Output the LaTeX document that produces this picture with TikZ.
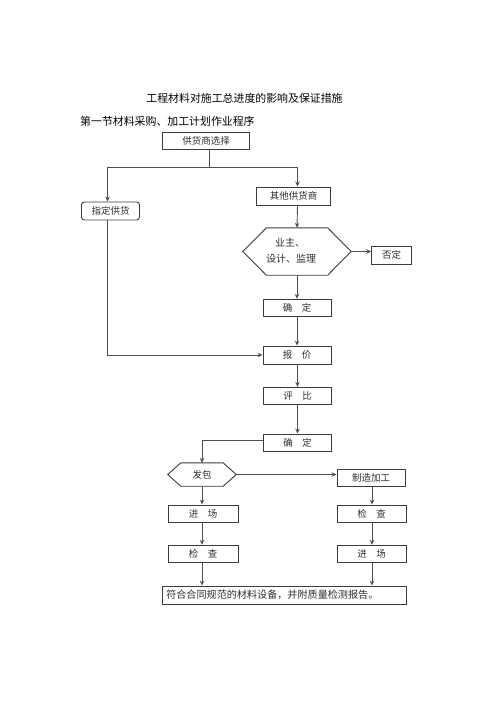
\documentclass[tikz,border=0pt]{standalone}
\usepackage{fontspec}
\setmainfont{Noto Sans CJK SC}
\usetikzlibrary{arrows.meta,calc}
\definecolor{linegray}{HTML}{505050}
\definecolor{boxgray}{HTML}{3C3C3C}
\definecolor{txtgray}{HTML}{2E2E2E}
\begin{document}
\begin{tikzpicture}[x=1pt,y=-1pt,
  boxst/.style={draw=boxgray, line width=0.9pt, inner sep=0pt, text=txtgray,
    font=\fontsize{9.5}{11}\selectfont},
  hexshape/.style={inner sep=0pt},
  hexline/.style={draw=boxgray, line width=0.9pt},
  conn/.style={draw=linegray, line width=0.9pt},
  arr/.style={conn, -{Stealth[length=5pt,width=4.5pt]}},
  titlest/.style={inner sep=0pt, font=\fontsize{10.9}{12}\selectfont, text=black}
]
\useasboundingbox (0,0) rectangle (500,707);

% titles
\node[titlest] (t1) at (244.5,98.3) {工程材料对施工总进度的影响及保证措施};
\node[titlest, anchor=west] (t2) at (80,121.7) {第一节材料采购、加工计划作业程序};

% boxes
\node[boxst, minimum width=87pt, minimum height=17pt] (sel) at (206,140.7) {供货商选择};
\node[boxst, rounded corners=3pt, minimum width=58pt, minimum height=18pt] (zd) at (110.5,211) {指定供货};
\node[boxst, minimum width=74pt, minimum height=18pt] (qt) at (293.5,196) {其他供货商};

\node[hexshape, minimum width=108pt, minimum height=47pt] (rev) at (297,251.5) {};
\draw[hexline] (rev.west) -- ([xshift=23.5pt]rev.north west) -- ([xshift=-23.5pt]rev.north east)
  -- (rev.east) -- ([xshift=-23.5pt]rev.south east) -- ([xshift=23.5pt]rev.south west) -- cycle;
\node[inner sep=0pt, align=left, text=txtgray, font=\fontsize{10}{16}\selectfont] (revt) at (291,251.2)
  {\hspace{0.9em}业主、\\设计、监理};

\node[boxst, minimum width=40pt, minimum height=18pt] (fd) at (391.7,255) {否定};
\node[boxst, minimum width=68pt, minimum height=17.5pt] (qd1) at (297,308) {确\hspace{1em}定};
\node[boxst, minimum width=68pt, minimum height=18pt] (bj) at (297,355) {报\hspace{1em}价};
\node[boxst, minimum width=68.5pt, minimum height=17pt] (pb) at (297.5,395.8) {评\hspace{1em}比};
\node[boxst, minimum width=68.5pt, minimum height=17pt] (qd2) at (297.5,442.5) {确\hspace{1em}定};

\node[hexshape, minimum width=68pt, minimum height=23pt, text=txtgray, font=\fontsize{9.5}{11}\selectfont] (fb) at (202,474.5) {发包};
\draw[hexline] (fb.west) -- ([xshift=13pt]fb.north west) -- ([xshift=-13pt]fb.north east)
  -- (fb.east) -- ([xshift=-13pt]fb.south east) -- ([xshift=13pt]fb.south west) -- cycle;

\node[boxst, minimum width=68pt, minimum height=17pt] (zz) at (371,477.5) {制造加工};
\node[boxst, minimum width=70pt, minimum height=17pt] (jcL) at (203,513.5) {进\hspace{1em}场};
\node[boxst, minimum width=70pt, minimum height=17.5pt] (ckL) at (203,554) {检\hspace{1em}查};
\node[boxst, minimum width=69pt, minimum height=17pt] (ckR) at (371.5,513.5) {检\hspace{1em}查};
\node[boxst, minimum width=69pt, minimum height=17.5pt] (jcR) at (371.5,554) {进\hspace{1em}场};
\node[boxst, minimum width=243.5pt, minimum height=18pt, text width=236pt, align=left,
  font=\fontsize{10.1}{12}\selectfont] (bot) at (284.25,595) {符合合同规范的材料设备，并附质量检测报告。};

% column coordinates
\coordinate (cR) at (297.5,0);
\coordinate (cL) at (202,0);
\coordinate (cZ) at (372,0);
\coordinate (split) at (209,167);
\coordinate (brL) at (107.5,167);
\coordinate (brR) at (297.5,167);

% connectors
\draw[conn] ([xshift=3pt]sel.south) -- (split);
\draw[conn] (brL) -- (brR);
\draw[arr] (brL) -- (brL |- zd.north);
\draw[arr] (brR) -- (brR |- qt.north);
\draw[arr] (cR |- qt.south) -- (rev.north);
\draw[arr] (rev.east) -- (rev.east -| fd.west);
\draw[arr] (rev.south) -- (qd1.north);
\draw[arr] (qd1.south) -- (bj.north);
\draw[arr] ([xshift=-3pt]zd.south) |- (bj.west);
\draw[arr] (cR |- bj.south) -- (cR |- pb.north);
\draw[arr] (cR |- pb.south) -- (cR |- qd2.north);
\draw[arr] ([yshift=2.5pt]qd2.west) -| (fb.north);
\draw[arr] (fb.east) -- (fb.east -| zz.west);
\draw[arr] (fb.south) -- (cL |- jcL.north);
\draw[arr] (cL |- jcL.south) -- (cL |- ckL.north);
\draw[arr] (cL |- ckL.south) -- (cL |- bot.north);
\draw[arr] (cZ |- zz.south) -- (cZ |- ckR.north);
\draw[arr] (cZ |- ckR.south) -- (cZ |- jcR.north);
\draw[arr] (cZ |- jcR.south) -- (cZ |- bot.north);
\end{tikzpicture}
\end{document}
